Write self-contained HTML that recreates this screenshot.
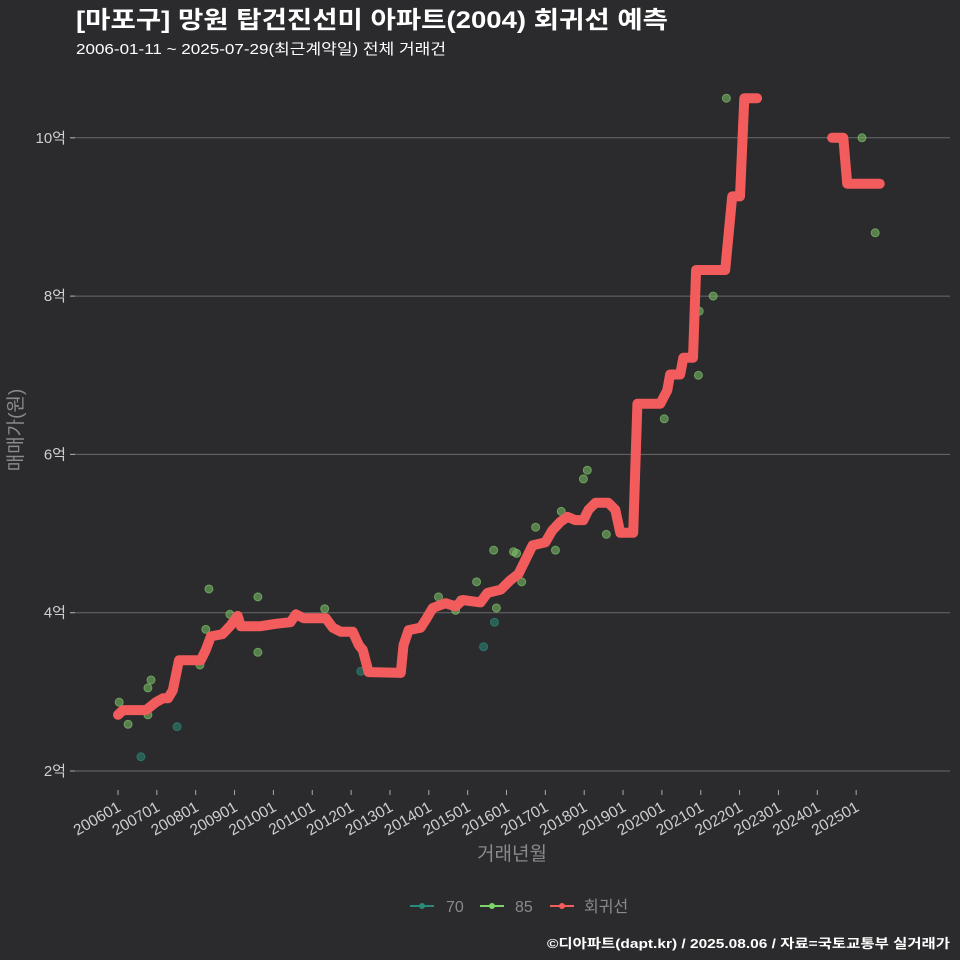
<!DOCTYPE html>
<html><head><meta charset="utf-8"><style>
html,body{margin:0;padding:0;background:#2b2a2c;}
svg{display:block;font-family:"Liberation Sans","Noto Sans CJK KR",sans-serif;}
</style></head><body>
<svg id="chart" width="960" height="960" viewBox="0 0 960 960">
<rect width="960" height="960" fill="#2b2a2c"/>
<text x="76" y="28" fill="#ffffff" font-size="24" font-weight="bold" textLength="592" lengthAdjust="spacingAndGlyphs">[마포구] 망원 탑건진선미 아파트(2004) 회귀선 예측</text>
<text x="76" y="54" fill="#ffffff" font-size="15" textLength="370" lengthAdjust="spacingAndGlyphs">2006-01-11 ~ 2025-07-29(최근계약일) 전체 거래건</text>
<g id="grid"></g><g id="xaxis"></g><g id="points"></g><g id="line"></g>
<text transform="translate(22,430) rotate(-90)" text-anchor="middle" fill="#8a8a8a" font-size="19">매매가(원)</text>
<text x="512" y="860" text-anchor="middle" fill="#8a8a8a" font-size="19">거래년월</text>
<g>
<g><line x1="410" y1="906" x2="434" y2="906" stroke="#2a8a7a" stroke-width="2"/><circle cx="422" cy="906" r="3" fill="#2a8a7a"/><text x="446" y="912" fill="#8a8a8a" font-size="16">70</text></g>
<g><line x1="480" y1="906" x2="504" y2="906" stroke="#7dd36a" stroke-width="2"/><circle cx="492" cy="906" r="3" fill="#7dd36a"/><text x="515" y="912" fill="#8a8a8a" font-size="16">85</text></g>
<g><line x1="550" y1="906" x2="574" y2="906" stroke="#f25c5c" stroke-width="2"/><circle cx="562" cy="906" r="3" fill="#f25c5c"/><text x="584" y="912" fill="#8a8a8a" font-size="16">회귀선</text></g>
</g>
<text x="950" y="948" text-anchor="end" fill="#ffffff" font-size="13" font-weight="bold" textLength="403" lengthAdjust="spacingAndGlyphs">©디아파트(dapt.kr) / 2025.08.06 / 자료=국토교통부 실거래가</text>
</svg>
<script>
const yTicks=[2,4,6,8,10];
const xTickLabels=["200601","200701","200801","200901","201001","201101","201201","201301","201401","201501","201601","201701","201801","201901","202001","202101","202201","202301","202401","202501"];
const lineYears1=[2006.0,2006.13,2006.72,2006.85,2006.98,2007.16,2007.29,2007.41,2007.57,2008.13,2008.26,2008.39,2008.69,2008.9,2009.08,2009.16,2009.67,2010.06,2010.44,2010.58,2010.78,2011.35,2011.53,2011.73,2012.04,2012.2,2012.3,2012.45,2013.28,2013.35,2013.48,2013.79,2013.92,2014.1,2014.43,2014.69,2014.87,2015.33,2015.51,2015.85,2016.1,2016.31,2016.49,2016.67,2017.0,2017.18,2017.39,2017.57,2017.77,2017.98,2018.11,2018.29,2018.62,2018.8,2018.93,2019.26,2019.37,2019.96,2020.14,2020.21,2020.47,2020.55,2020.8,2020.88,2021.63,2021.81,2022.01,2022.12,2022.45];
const lineValues1=[2.71,2.77,2.77,2.82,2.87,2.92,2.92,3.02,3.40,3.40,3.53,3.70,3.73,3.84,3.96,3.83,3.83,3.86,3.88,3.98,3.93,3.93,3.81,3.76,3.76,3.59,3.53,3.25,3.24,3.59,3.78,3.81,3.91,4.06,4.12,4.08,4.16,4.13,4.25,4.29,4.41,4.49,4.67,4.85,4.89,5.04,5.15,5.21,5.17,5.17,5.30,5.39,5.39,5.30,5.01,5.01,6.64,6.64,6.81,7.01,7.01,7.22,7.22,8.33,8.33,9.26,9.26,10.5,10.5];
const lineYears2=[2024.38,2024.67,2024.77,2025.61];
const lineValues2=[10.0,10.0,9.42,9.42];
const ptYears=[2006.03,2006.26,2006.59,2006.77,2006.85,2006.77,2007.52,2008.11,2008.26,2008.34,2008.88,2009.6,2009.6,2011.32,2012.25,2014.25,2014.69,2015.23,2015.41,2015.67,2015.69,2015.74,2016.18,2016.26,2016.39,2016.75,2017.26,2017.41,2017.98,2018.08,2018.57,2020.06,2020.94,2020.96,2021.32,2021.66,2025.15,2025.49,2014.82];
const ptValues=[2.87,2.59,2.18,3.05,3.15,2.71,2.56,3.34,3.79,4.30,3.98,4.20,3.50,4.05,3.26,4.20,4.03,4.39,3.57,4.79,3.88,4.06,4.77,4.75,4.39,5.08,4.79,5.28,5.69,5.80,4.99,6.45,7.00,7.81,8.00,10.5,10.0,8.80,4.16];
const ptSizes=[85,85,70,85,85,85,70,85,85,85,85,85,85,85,70,85,85,85,70,85,70,85,85,85,85,85,85,85,85,85,85,85,85,85,85,85,85,85,85];
const NS="http://www.w3.org/2000/svg";
function xs(yr){return 118+(yr-2006)*38.85;}
function ys(v){return 771-(v-2)*79.15;}
function mk(tag,attrs,parent){const e=document.createElementNS(NS,tag);for(const k in attrs)e.setAttribute(k,attrs[k]);parent.appendChild(e);return e;}
const grid=document.getElementById('grid');
yTicks.forEach(v=>{
 const l=mk('line',{x1:70,x2:950,y1:ys(v),y2:ys(v),stroke:'#6b6b6b','stroke-width':1},grid);
 
 
 mk('line',{x1:70,x2:75,y1:ys(v),y2:ys(v),stroke:'#aaa'},grid);
 const t=mk('text',{x:66,y:ys(v)+5,'text-anchor':'end',fill:'#cfcfcf','font-size':15},grid);
 t.textContent=v+'억';
 
 
});
const xa=document.getElementById('xaxis');
xTickLabels.forEach((lab,i)=>{
 const x=xs(2006+i);
 mk('line',{x1:x,x2:x,y1:790,y2:795,stroke:'#aaa'},xa);
 const t=mk('text',{transform:`translate(${x+4},${810}) rotate(-30)`,'text-anchor':'end',fill:'#cfcfcf','font-size':15.5},xa);
 t.textContent=lab;
 
 
});
const pg=document.getElementById('points');
ptYears.forEach((yr,i)=>{
 const teal=ptSizes[i]===70;
 const c=mk('circle',{cx:xs(yr),cy:ys(ptValues[i]),r:4,fill:teal?'#2a8a7a':'#7dc36a','fill-opacity':0.55,stroke:teal?'#2a8a7a':'#7dc36a','stroke-opacity':0.7},pg);
 
 
});
const lg=document.getElementById('line');
[[lineYears1,lineValues1],[lineYears2,lineValues2]].forEach(([xsArr,vs])=>{
 const d=xsArr.map((yr,i)=>(i?'L':'M')+xs(yr).toFixed(1)+','+ys(vs[i]).toFixed(1)).join(' ');
 const p=mk('path',{d:d,fill:'none',stroke:'#f25c5c','stroke-width':10,'stroke-linejoin':'round','stroke-linecap':'round'},lg);
 
 
});
</script>
</body></html>
